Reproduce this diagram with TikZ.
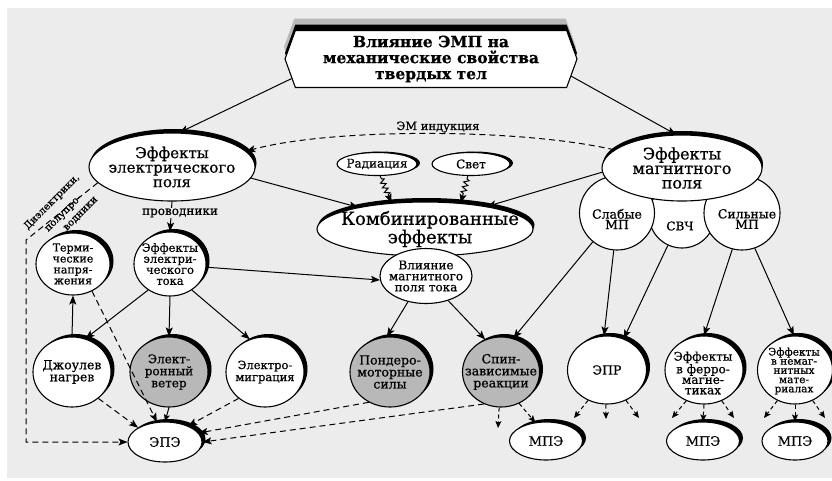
\documentclass[tikz,border=0pt]{standalone}
\usepackage{fontspec}
\setmainfont{DejaVu Serif}[FakeBold=0.7]
\usetikzlibrary{shapes.geometric,shapes.symbols,shadows,arrows.meta,decorations.pathmorphing}
\newcommand\myfs[2]{\fontsize{#1}{#2}\selectfont}
\definecolor{bgc}{HTML}{ECECEC}
\definecolor{grayfill}{HTML}{B8B8B8}
\begin{document}
\begin{tikzpicture}[x=1pt,y=-1pt,
  every node/.style={inner sep=0pt},
  shp/.style={draw, line width=1.1pt, fill=white, ellipse, inner sep=0pt},
  shtr/.style={general shadow={fill=black, shadow xshift=3.5pt, shadow yshift=3pt}},
  shtop/.style={general shadow={fill=black, shadow xshift=1.5pt, shadow yshift=4pt}},
  shr/.style={general shadow={fill=black, shadow xshift=3pt, shadow yshift=1pt}},
  txt/.style={align=center, text=black},
  arr/.style={line width=1pt, -{Stealth[length=9pt,width=7pt,inset=2pt]}},
  darr/.style={arr, dash pattern=on 6pt off 4pt},
  sarr/.style={line width=1pt, dash pattern=on 4pt off 3pt, -{Stealth[length=7pt,width=6pt,inset=1.5pt]}},
  zz/.style={arr, decorate, decoration={zigzag, segment length=5pt, amplitude=2.5pt, pre length=3pt, post length=8pt}},
]
\useasboundingbox (0,0) rectangle (832,480);
\fill[white] (0,0) rectangle (832,480);
\fill[bgc] (7,8) rectangle (832,478);

% title
\node[signal, signal to=west and east, signal pointer angle=140, draw, line width=1.1pt, fill=white,
  minimum width=292pt, minimum height=57pt,
  general shadow={fill=gray!55, shadow yshift=12pt, shadow xshift=-1pt},
  general shadow={fill=black, shadow yshift=6pt}] (title) at (431,59) {};
\node[txt, font=\bfseries\myfs{15.5}{16}] (title-t) at (title) {Влияние ЭМП на\\механические свойства\\твердых тел};

% electric field
\node[shp, shtop, minimum width=166pt, minimum height=68pt] (ef) at (172,167) {};
\node[txt, font=\myfs{15}{14.5}] (ef-t) at (ef) {Эффекты\\электрического\\поля};

% magnetic field
\node[shp, minimum width=66pt, minimum height=66pt] (svch) at (682,215) {};
\node[shp, minimum width=75pt, minimum height=74pt] (slab) at (617,213) {};
\node[shp, minimum width=76pt, minimum height=74pt] (silm) at (742,213) {};
\node[shp, general shadow={fill=black, shadow xshift=1pt, shadow yshift=4pt}, minimum width=160pt, minimum height=66pt] (mf) at (682,168) {};
\node[txt, font=\myfs{16}{14.5}] (mf-t) at (mf) {Эффекты\\магнитного\\поля};
\node[txt, font=\myfs{12.5}{10.5}] (slab-t) at (617,219) {Слабые\\МП};
\node[txt, font=\myfs{12}{10}] (svch-t) at (680,226) {СВЧ};
\node[txt, font=\myfs{12.5}{10.5}] (silm-t) at (747,219) {Сильные\\МП};

% combined
\node[shp, shr, minimum width=80pt, minimum height=23pt] (rad) at (377,164) {};
\node[txt, font=\myfs{12}{12}] (rad-t) at (rad) {Радиация};
\node[shp, shr, minimum width=78pt, minimum height=23pt] (svet) at (471,164) {};
\node[txt, font=\myfs{12}{12}] (svet-t) at (svet) {Свет};
\node[shp, shtop, minimum width=216pt, minimum height=54pt] (comb) at (425,229) {};
\node[txt, font=\myfs{18}{15}] (comb-t) at (430,229) {Комбинированные\\эффекты};
\node[shp, minimum width=92pt, minimum height=55pt] (vmp) at (426,276) {};
\node[txt, font=\myfs{12}{11}] (vmp-t) at (vmp) {Влияние\\магнитного\\поля тока};

% electric tree
\node[shp, shtr, minimum width=74pt, minimum height=62pt] (term) at (73,264) {};
\node[txt, font=\myfs{11}{11}] (term-t) at (term) {Терми-\\ческие\\напря-\\жения};
\node[shp, shtr, minimum width=72pt, minimum height=64pt] (ec) at (170,264) {};
\node[txt, font=\myfs{11.5}{11}] (ec-t) at (ec) {Эффекты\\электри-\\ческого\\тока};
\node[shp, shtr, minimum width=78pt, minimum height=70pt] (joule) at (72,372) {};
\node[txt, font=\myfs{12.5}{12}] (joule-t) at (joule) {Джоулев\\нагрев};
\node[shp, shtr, fill=grayfill, minimum width=78pt, minimum height=70pt] (wind) at (169,372) {};
\node[txt, font=\myfs{12}{12}] (wind-t) at (wind) {Элект-\\ронный\\ветер};
\node[shp, shtr, minimum width=78pt, minimum height=70pt] (migr) at (265,372) {};
\node[txt, font=\myfs{11.5}{12}] (migr-t) at (migr) {Электро-\\миграция};
\node[shp, shtr, minimum width=74pt, minimum height=40pt] (epe) at (165,442) {};
\node[txt, font=\myfs{13}{12}] (epe-t) at (epe) {ЭПЭ};

% magnetic-current tree
\node[shp, shtr, fill=grayfill, minimum width=80pt, minimum height=70pt] (pond) at (390,372) {};
\node[txt, font=\myfs{12.5}{12}] (pond-t) at (pond) {Пондеро-\\моторные\\силы};
\node[shp, shtr, fill=grayfill, minimum width=77pt, minimum height=70pt] (spin) at (501,372) {};
\node[txt, font=\myfs{12.5}{12}] (spin-t) at (spin) {Спин-\\зависимые\\реакции};

% magnetic tree
\node[shp, shtr, minimum width=79pt, minimum height=68pt] (epr) at (607,370) {};
\node[txt, font=\myfs{12.5}{12}] (epr-t) at (epr) {ЭПР};
\node[shp, shtr, minimum width=78pt, minimum height=68pt] (ferro) at (704,370) {};
\node[txt, font=\myfs{12}{10.5}] (ferro-t) at (703,373) {Эффекты\\в ферро-\\магне-\\тиках};
\node[shp, shtr, minimum width=75pt, minimum height=68pt] (nemag) at (795,370) {};
\node[txt, font=\myfs{10.5}{9.2}] (nemag-t) at (794,371) {Эффекты\\в немаг-\\нитных\\мате-\\риалах};
\node[shp, shtr, minimum width=73pt, minimum height=38pt] (mpe1) at (546,441) {};
\node[txt, font=\myfs{13}{12}] (mpe1-t) at (mpe1) {МПЭ};
\node[shp, shtr, minimum width=73pt, minimum height=38pt] (mpe2) at (703,441) {};
\node[txt, font=\myfs{13}{12}] (mpe2-t) at (mpe2) {МПЭ};
\node[shp, shtr, minimum width=66pt, minimum height=38pt] (mpe3) at (795,441) {};
\node[txt, font=\myfs{13}{12}] (mpe3-t) at (mpe3) {МПЭ};

% free ends
\coordinate (s1) at (498,428);
\coordinate (p1) at (574,418);
\coordinate (p2) at (606,419);
\coordinate (p3) at (639,418);
\coordinate (f1) at (672,418);
\coordinate (f3) at (734,418);
\coordinate (n1) at (764,418);
\coordinate (n3) at (825,418);
\coordinate (dc) at (26,240);

% connectors: top
\draw[arr] (title.188) -- (ef.78);
\draw[arr] (title.-7) -- (mf.100);
\draw[darr] (mf.165) .. controls (520,128) and (330,128) .. (ef.12);
\node[txt, font=\myfs{11.5}{12}] (emi) at (438,127) {ЭМ индукция};
\draw[arr] (ef.-8) -- (comb.162);
\draw[arr] (mf.183) -- (comb.20);
\draw[zz] (rad.-75) -- (comb.142);
\draw[zz] (svet.-105) -- (comb.36);

% electric
\draw[arr] (ef.south) -- (ec.north);
\node[txt, fill=bgc, inner sep=1pt, font=\myfs{12}{12}] (prov) at (180,213) {проводники};
\draw[darr] (ef.192) -- (dc) |- (epe.west);
\node[txt, rotate=45, font=\myfs{10}{10}] (diel) at (52,202) {Диэлектрики,};
\node[txt, rotate=45, font=\myfs{10}{10}] (polu) at (64,214) {полупро-};
\node[txt, rotate=45, font=\myfs{10}{10}] (vodn) at (81,214) {водники};
\draw[arr] (joule.north) -- (term.south);
\draw[darr] (term.-55) -- (epe.112);
\draw[arr] (ec.-130) -- (joule.68);
\draw[arr] (ec.south) -- (wind.north);
\draw[arr] (ec.-50) -- (migr.115);
\draw[arr] (ec.-5) -- (vmp.185);
\draw[darr] (joule.-45) -- (epe.152);
\draw[line width=1pt, -{Stealth[length=7pt,width=6pt,inset=1.5pt]}] (wind.south) -- (epe.north);
\draw[darr] (migr.-135) -- (epe.35);
\draw[darr] (pond.-125) -- (epe.15);
\draw[darr] (spin.-118) -- (epe.0);
\draw[arr] (vmp.-125) -- (pond.95);
\draw[arr] (vmp.-48) -- (spin.116);

% magnetic
\draw[arr] (slab.-130) -- (spin.70);
\draw[arr] (slab.-95) -- (epr.95);
\draw[arr] (svch.-115) -- (epr.62);
\draw[arr] (silm.-105) -- (ferro.90);
\draw[arr] (silm.-70) -- (nemag.92);

% short arrows
\draw[sarr] (spin.-93) -- (s1);
\draw[sarr] (spin.-60) -- (mpe1.120);
\draw[sarr] (epr.-122) -- (p1);
\draw[sarr] (epr.-92) -- (p2);
\draw[sarr] (epr.-58) -- (p3);
\draw[sarr] (ferro.-120) -- (f1);
\draw[sarr] (ferro.-90) -- (mpe2.north);
\draw[sarr] (ferro.-60) -- (f3);
\draw[sarr] (nemag.-120) -- (n1);
\draw[sarr] (nemag.-90) -- (mpe3.north);
\draw[sarr] (nemag.-60) -- (n3);
\end{tikzpicture}
\end{document}
